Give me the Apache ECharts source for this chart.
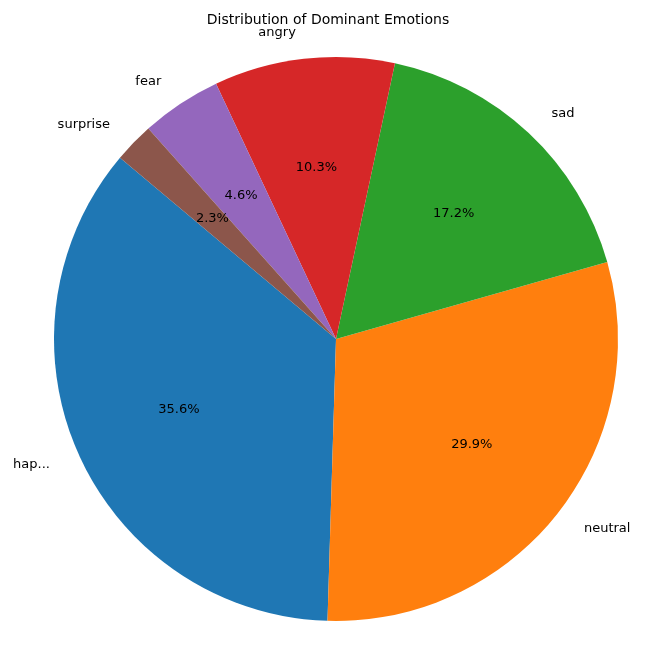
<!DOCTYPE html>
<html>
<head>
<meta charset="utf-8">
<script src="https://cdn.jsdelivr.net/npm/echarts@6/dist/echarts.min.js"></script>
<style>html,body{margin:0;padding:0;background:#fff}#chart{width:656px;height:658px}</style>
</head>
<body>
<div id="chart"></div>
<script>
// emotion counts (percentages shown are share of the total)
var emotions = ['happy', 'neutral', 'sad', 'angry', 'fear', 'surprise'];
var counts = [31, 26, 15, 9, 4, 2];
var colors = ['#1f77b4', '#ff7f0e', '#2ca02c', '#d62728', '#9467bd', '#8c564b'];

var total = counts.reduce(function (a, b) { return a + b; }, 0);
var data = emotions.map(function (name, i) { return { name: name, value: counts[i] }; });
var R = 282;
var font = 'DejaVu Sans';

var chart = echarts.init(document.getElementById('chart'));
chart.setOption({
    animation: false,
    color: colors,
    title: {
        text: 'Distribution of Dominant Emotions',
        left: 'center', top: 8,
        textStyle: { fontFamily: font, fontSize: 14, fontWeight: 'normal', color: '#000' }
    },
    series: [
        {
            // wedges with outer name labels
            type: 'pie', center: [336, 339], radius: [0, R],
            startAngle: 140, clockwise: false, silent: true,
            itemStyle: { borderWidth: 0 },
            label: {
                show: true, position: 'outside', formatter: '{b}',
                fontFamily: font, fontSize: 13, color: '#000'
            },
            labelLine: { show: false, length: 26, length2: 0 },
            data: data
        },
        {
            // transparent ring carrying percentage labels at 0.6 R
            type: 'pie', center: [336, 339], radius: [R * 0.2, R],
            startAngle: 140, clockwise: false, silent: true,
            itemStyle: { color: 'rgba(0,0,0,0)' },
            label: {
                show: true, position: 'inside',
                formatter: function (p) { return (p.value / total * 100).toFixed(1) + '%'; },
                fontFamily: font, fontSize: 13, color: '#000'
            },
            labelLine: { show: false },
            data: data
        }
    ]
});
</script>
</body>
</html>
